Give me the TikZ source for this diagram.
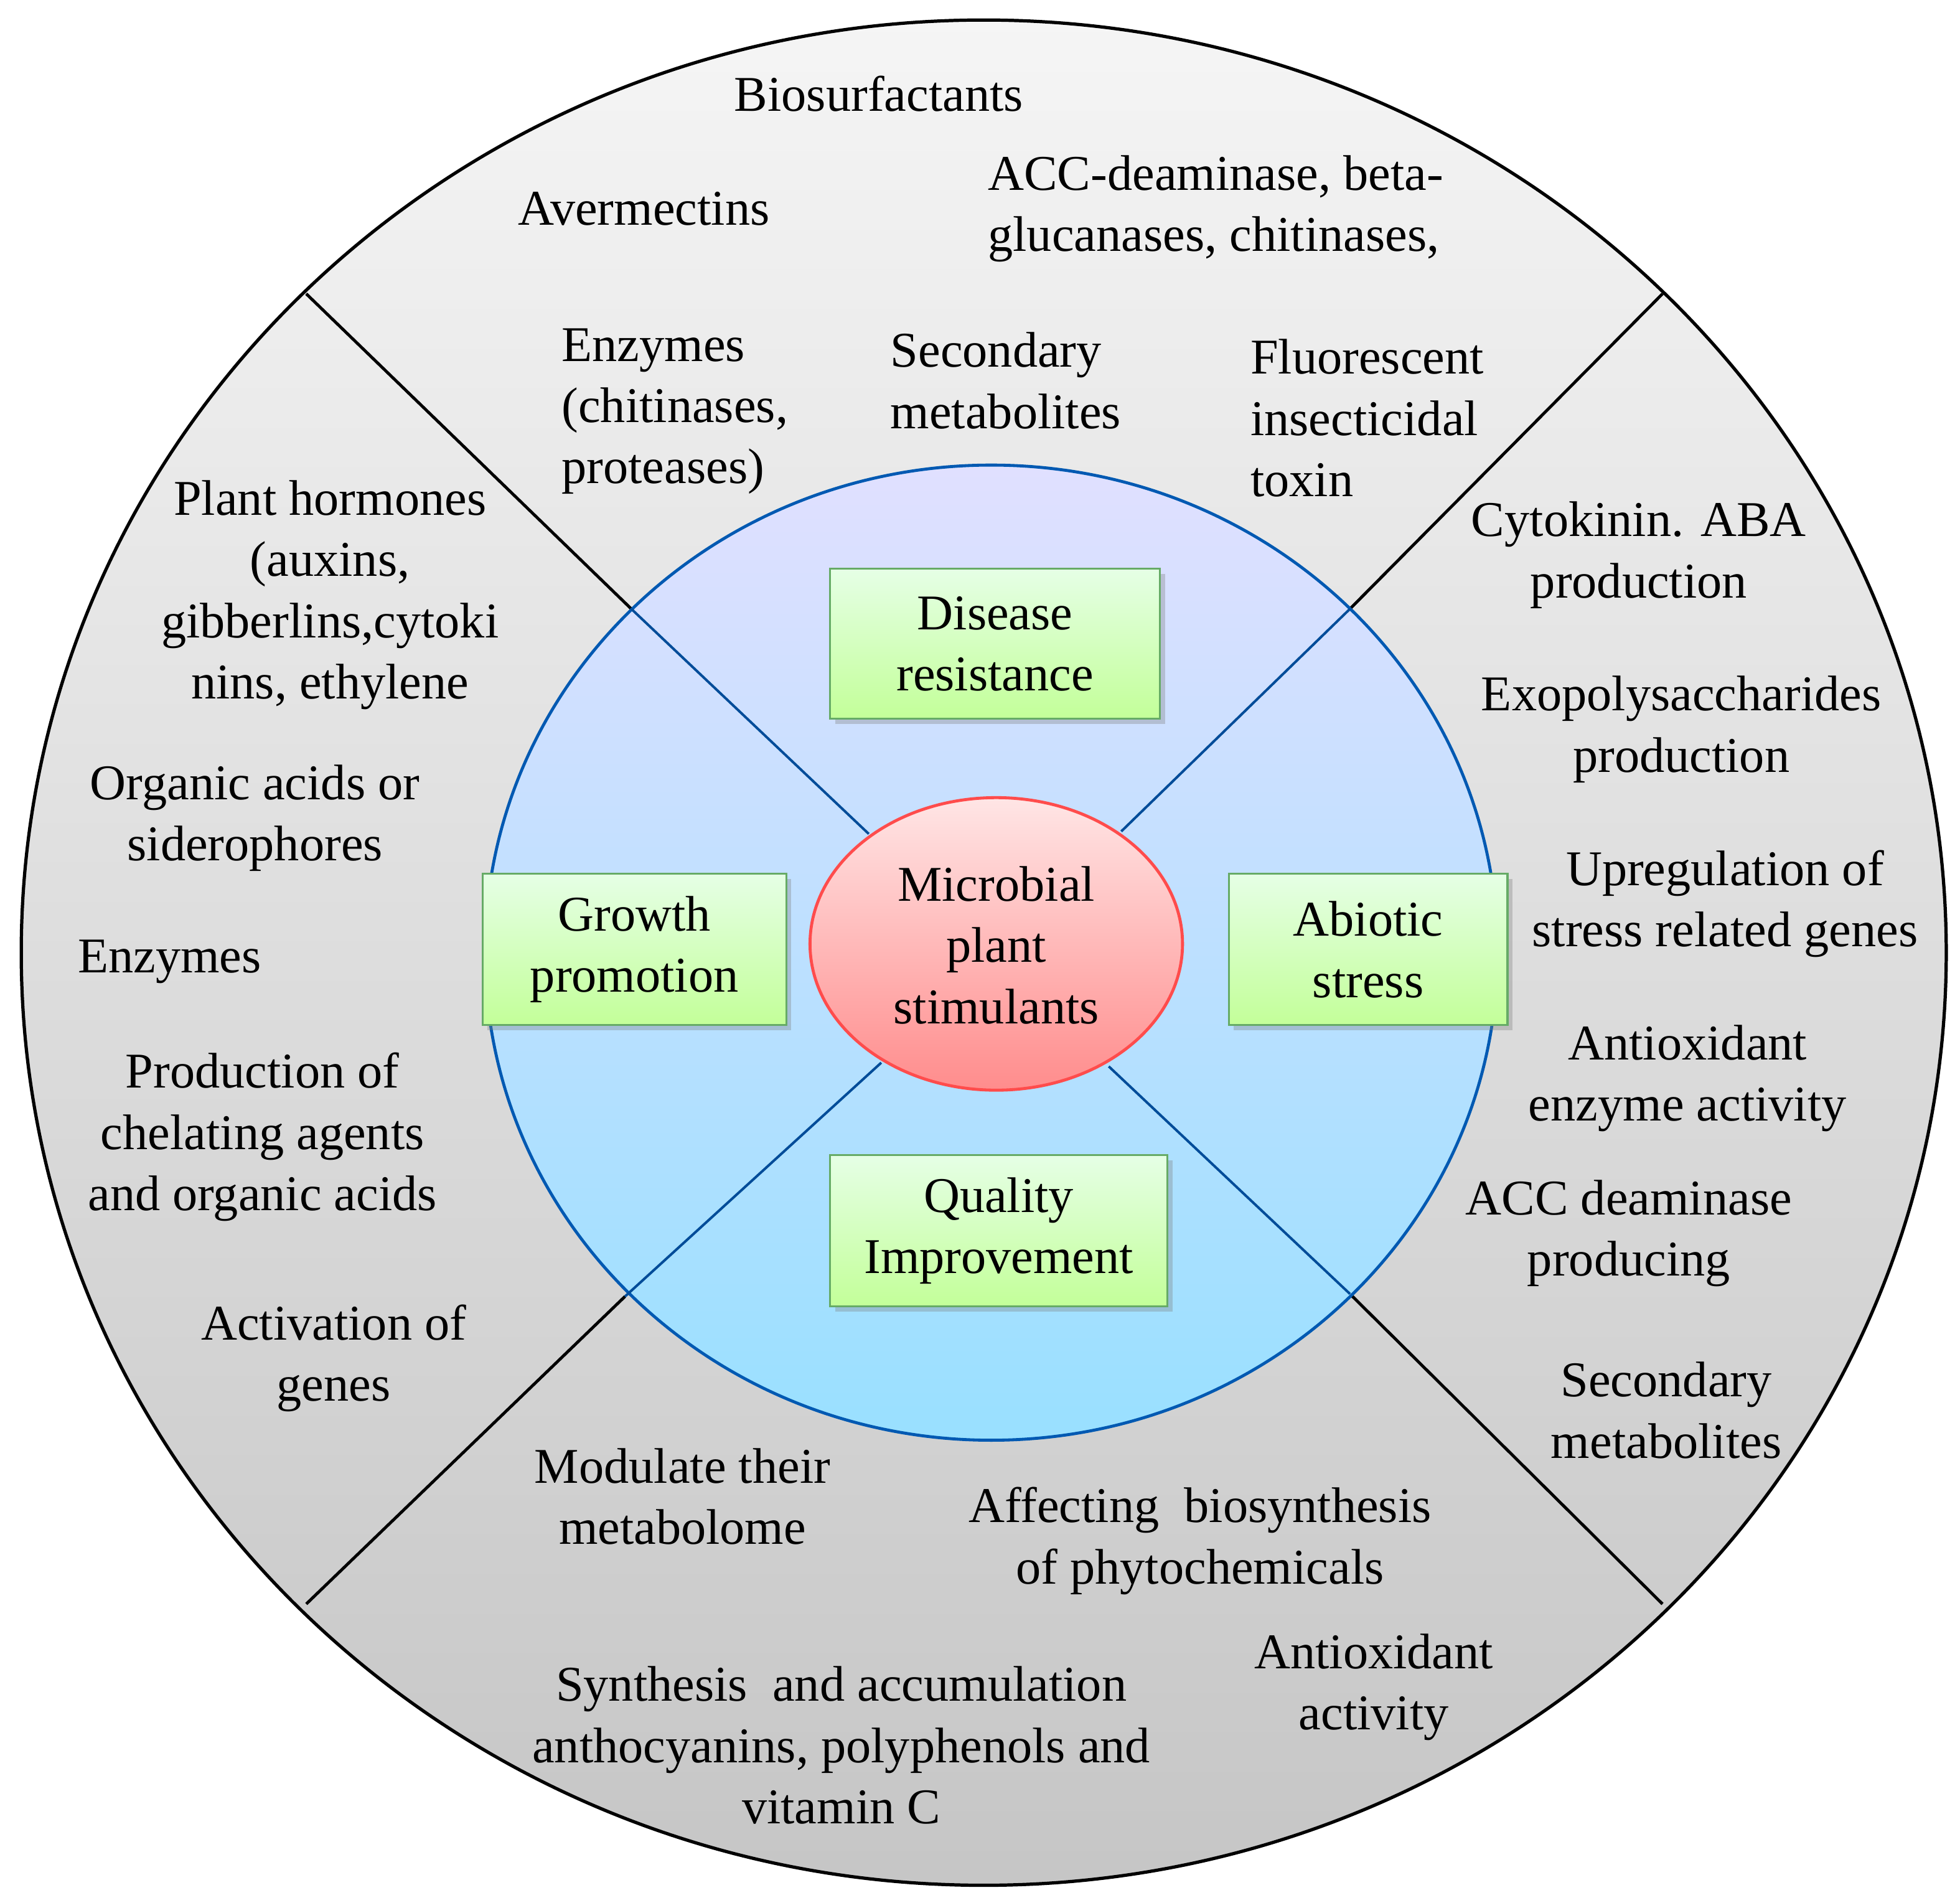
\documentclass[tikz,border=0pt]{standalone}
\usepackage{fontspec}
\setmainfont{Liberation Serif}
\usetikzlibrary{shadows}
\begin{document}
\begin{tikzpicture}[x=0.5pt,y=-0.5pt,
  txt/.style={font=\fontsize{20}{24.5}\selectfont,align=center,inner sep=0pt},
  ltxt/.style={txt,align=left,anchor=west},
  gbox/.style={draw=green!45!black!60,line width=0.8pt,top color=green!10!white,bottom color=lime!55!green!40,
     drop shadow={shadow xshift=2pt,shadow yshift=-2pt,opacity=.35},txt},
  divl/.style={line width=1.2pt,black},
  bluel/.style={line width=1pt,blue!50!cyan!60!black}]
\useasboundingbox (0,0) rectangle (1568,1522);
% outer
\path[draw=black,line width=1.3pt,top color=gray!8,bottom color=gray!45] (787,762) ellipse [x radius=770,y radius=746];
% dividers
\coordinate (o1) at (245,235); \coordinate (o2) at (1330,235);
\coordinate (o3) at (245,1283); \coordinate (o4) at (1330,1283);
\coordinate (i1) at (505,487); \coordinate (i2) at (1080,487);
\coordinate (i3) at (500,1037); \coordinate (i4) at (1080,1035);
\draw[divl] (o1)--(i1) (o2)--(i2) (o3)--(i3) (o4)--(i4);
% inner
\path[draw=blue!50!cyan!70!black,line width=1.2pt,top color=blue!12!white,bottom color=blue!30!cyan!40] (793,762) ellipse [x radius=405,y radius=390];
\coordinate (c1) at (695,667); \coordinate (c2) at (897,665);
\coordinate (c3) at (705,850); \coordinate (c4) at (887,853);
\draw[bluel] (i1)--(c1) (i2)--(c2) (i3)--(c3) (i4)--(c4);
% center
\path[draw=red!70!white,line width=1.2pt,top color=red!10!white,bottom color=red!45!white] (797,755) ellipse [x radius=149,y radius=117];
\node[txt] (ctr) at (797,756) {Microbial\\plant\\stimulants};
% boxes
\node[gbox,minimum width=132pt,minimum height=60pt] (dis) at (796,515) {Disease\\resistance};
\node[gbox,minimum width=121.5pt,minimum height=60.5pt] (gro) at (507.5,759.5) {Growth\\promotion};
\node[gbox,minimum width=111.5pt,minimum height=60.5pt] (abi) at (1094.5,759.5) {Abiotic\\stress};
\node[gbox,minimum width=135pt,minimum height=60.5pt] (qua) at (799,984.5) {Quality\\Improvement};
% top texts
\node[txt] (t1) at (703,75) {Biosurfactants};
\node[txt] (t2) at (515,167) {Avermectins};
\node[ltxt] (t3) at (790,167) {ACC-deaminase, beta-\\glucanases, chitinases,};
\node[ltxt] (t4) at (449,329) {Enzymes\\(chitinases,\\proteases)};
\node[ltxt] (t5) at (712,304.5) {Secondary\\metabolites};
\node[ltxt] (t6) at (1000,334.5) {Fluorescent\\insecticidal\\toxin};
% left texts
\node[txt] (l1) at (264,476) {Plant hormones\\(auxins,\\gibberlins,cytoki\\nins, ethylene};
\node[txt] (l2) at (204,654.5) {Organic acids or\\siderophores};
\node[ltxt] (l3) at (62,769) {Enzymes};
\node[txt] (l4) at (210,909.5) {Production of\\chelating agents\\and organic acids};
\node[txt] (l5) at (267,1086.5) {Activation of\\genes};
% bottom texts
\node[txt] (b1) at (546,1197) {Modulate their\\metabolome};
\node[txt] (b2) at (960,1232.5) {Affecting\ \ biosynthesis\\of phytochemicals};
\node[txt] (b3) at (673,1396) {Synthesis\ \ and accumulation\\anthocyanins, polyphenols and\\vitamin C};
\node[txt] (b4) at (1099,1349.5) {Antioxidant\\activity};
% right texts
\node[txt] (r1) at (1311,444) {Cytokinin. ABA\\production};
\node[txt] (r2) at (1345,583.5) {Exopolysaccharides\\production};
\node[txt] (r3) at (1380,723) {Upregulation of\\stress related genes};
\node[txt] (r4) at (1350,862.5) {Antioxidant\\enzyme activity};
\node[txt] (r5) at (1303,986.5) {ACC deaminase\\producing};
\node[txt] (r6) at (1333,1128) {Secondary\\metabolites};
\end{tikzpicture}
\end{document}
